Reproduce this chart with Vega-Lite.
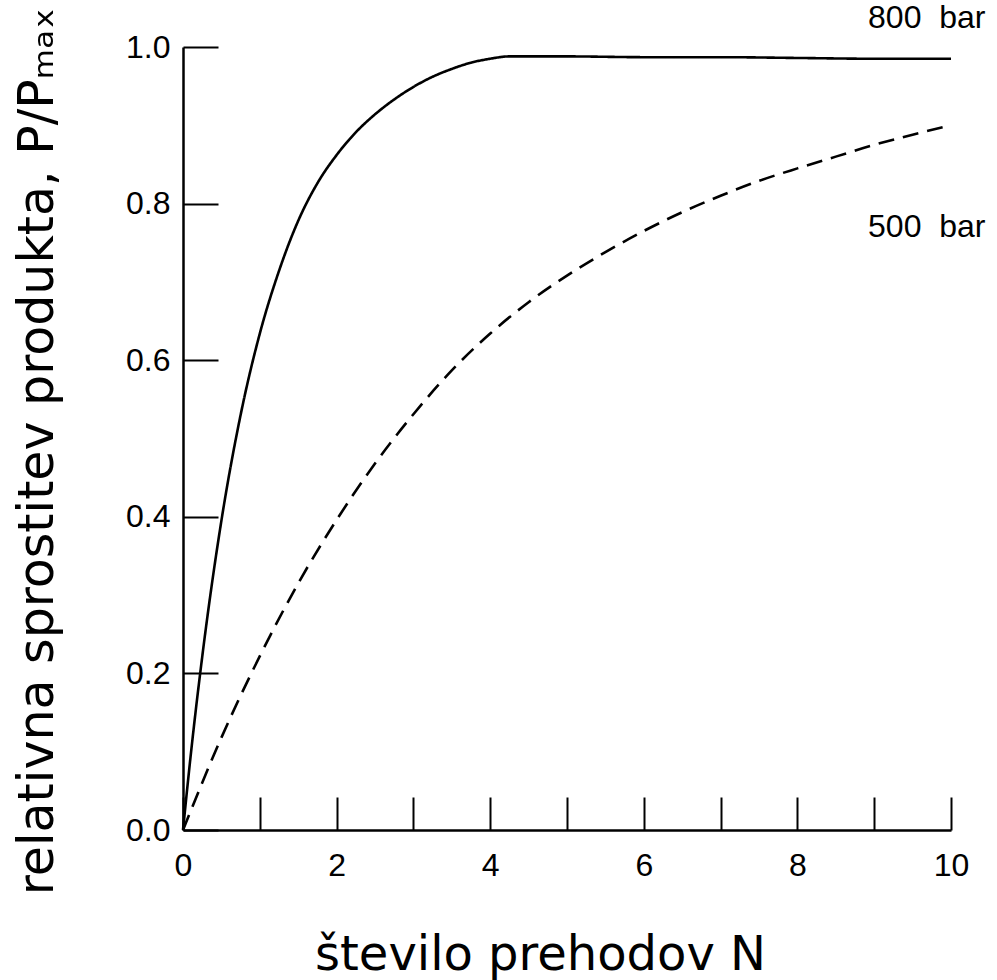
{
  "$schema": "https://vega.github.io/schema/vega-lite/v6.json",
  "width": 768,
  "height": 783,
  "autosize": {"type": "none"},
  "padding": {"left": 183, "top": 47, "right": 46, "bottom": 150},
  "background": "white",
  "config": {"view": {"stroke": null}},
  "datasets": {
    "curves": [
      {"N": 0, "P": 0, "series": "800 bar"},
      {"N": 0.1, "P": 0.095, "series": "800 bar"},
      {"N": 0.25, "P": 0.221, "series": "800 bar"},
      {"N": 0.5, "P": 0.395, "series": "800 bar"},
      {"N": 0.75, "P": 0.53, "series": "800 bar"},
      {"N": 1, "P": 0.634, "series": "800 bar"},
      {"N": 1.25, "P": 0.714, "series": "800 bar"},
      {"N": 1.5, "P": 0.778, "series": "800 bar"},
      {"N": 1.75, "P": 0.826, "series": "800 bar"},
      {"N": 2, "P": 0.862, "series": "800 bar"},
      {"N": 2.25, "P": 0.891, "series": "800 bar"},
      {"N": 2.5, "P": 0.914, "series": "800 bar"},
      {"N": 2.75, "P": 0.933, "series": "800 bar"},
      {"N": 3, "P": 0.949, "series": "800 bar"},
      {"N": 3.25, "P": 0.962, "series": "800 bar"},
      {"N": 3.5, "P": 0.972, "series": "800 bar"},
      {"N": 3.75, "P": 0.980, "series": "800 bar"},
      {"N": 4, "P": 0.985, "series": "800 bar"},
      {"N": 4.25, "P": 0.988, "series": "800 bar"},
      {"N": 4.5, "P": 0.988, "series": "800 bar"},
      {"N": 5, "P": 0.988, "series": "800 bar"},
      {"N": 6, "P": 0.987, "series": "800 bar"},
      {"N": 7, "P": 0.987, "series": "800 bar"},
      {"N": 8, "P": 0.986, "series": "800 bar"},
      {"N": 9, "P": 0.985, "series": "800 bar"},
      {"N": 10, "P": 0.985, "series": "800 bar"},
      {"N": 0, "P": 0, "series": "500 bar"},
      {"N": 0.5, "P": 0.118, "series": "500 bar"},
      {"N": 1, "P": 0.222, "series": "500 bar"},
      {"N": 1.5, "P": 0.315, "series": "500 bar"},
      {"N": 2, "P": 0.396, "series": "500 bar"},
      {"N": 2.5, "P": 0.468, "series": "500 bar"},
      {"N": 3, "P": 0.531, "series": "500 bar"},
      {"N": 3.5, "P": 0.587, "series": "500 bar"},
      {"N": 4, "P": 0.634, "series": "500 bar"},
      {"N": 4.5, "P": 0.674, "series": "500 bar"},
      {"N": 5, "P": 0.708, "series": "500 bar"},
      {"N": 5.5, "P": 0.738, "series": "500 bar"},
      {"N": 6, "P": 0.765, "series": "500 bar"},
      {"N": 6.5, "P": 0.789, "series": "500 bar"},
      {"N": 7, "P": 0.810, "series": "500 bar"},
      {"N": 7.5, "P": 0.829, "series": "500 bar"},
      {"N": 8, "P": 0.845, "series": "500 bar"},
      {"N": 8.5, "P": 0.860, "series": "500 bar"},
      {"N": 9, "P": 0.875, "series": "500 bar"},
      {"N": 9.5, "P": 0.888, "series": "500 bar"},
      {"N": 10, "P": 0.900, "series": "500 bar"}
    ],
    "labels": [
      {"N": 8.92, "P": 1.024, "text": "800\u00a0 bar"},
      {"N": 8.92, "P": 0.757, "text": "500\u00a0 bar"}
    ]
  },
  "layer": [
    {
      "data": {"name": "curves"},
      "mark": {"type": "line", "color": "black", "strokeWidth": 2.6, "interpolate": "monotone"},
      "encoding": {
        "x": {
          "field": "N", "type": "quantitative",
          "scale": {"domain": [0, 10], "nice": false, "zero": true},
          "axis": {
            "values": [0, 1, 2, 3, 4, 5, 6, 7, 8, 9, 10],
            "format": "d",
            "labelExpr": "datum.value % 2 == 0 ? datum.label : ''",
            "labelFlush": false,
            "grid": false,
            "domainColor": "black", "domainWidth": 2.5,
            "tickColor": "black", "tickWidth": 2, "tickSize": -33,
            "labelFont": "Liberation Sans", "labelFontSize": 32, "labelColor": "black",
            "labelBaseline": "alphabetic", "labelPadding": 78,
            "title": "število prehodov N",
            "titleFont": "DejaVu Sans", "titleFontSize": 48, "titleFontWeight": "normal",
            "titleColor": "black", "titleAlign": "center", "titleBaseline": "alphabetic",
            "titleX": 357, "titleY": 139
          }
        },
        "y": {
          "field": "P", "type": "quantitative",
          "scale": {"domain": [0, 1], "nice": false},
          "axis": {
            "values": [0, 0.2, 0.4, 0.6, 0.8, 1.0],
            "format": ".1f",
            "labelFlush": false,
            "grid": false,
            "domainColor": "black", "domainWidth": 2.5,
            "tickColor": "black", "tickWidth": 2, "tickSize": -35,
            "labelFont": "Liberation Sans", "labelFontSize": 32, "labelColor": "black",
            "labelPadding": 48, "labelBaseline": "middle",
            "title": "relativna sprostitev produkta, P/Pₘₐₓ",
            "titleFont": "DejaVu Sans", "titleFontSize": 49, "titleFontWeight": "normal",
            "titleColor": "black", "titleAngle": -90, "titleAlign": "center", "titleBaseline": "alphabetic",
            "titleX": -131, "titleY": 404
          }
        },
        "strokeDash": {
          "field": "series", "type": "nominal",
          "scale": {"domain": ["800 bar", "500 bar"], "range": [[1, 0], [16, 9]]},
          "legend": null
        },
        "detail": {"field": "series"}
      }
    },
    {
      "data": {"name": "labels"},
      "mark": {"type": "text", "align": "left", "baseline": "alphabetic", "font": "Liberation Sans", "fontSize": 32, "color": "black"},
      "encoding": {
        "x": {"field": "N", "type": "quantitative"},
        "y": {"field": "P", "type": "quantitative"},
        "text": {"field": "text"}
      }
    }
  ]
}
